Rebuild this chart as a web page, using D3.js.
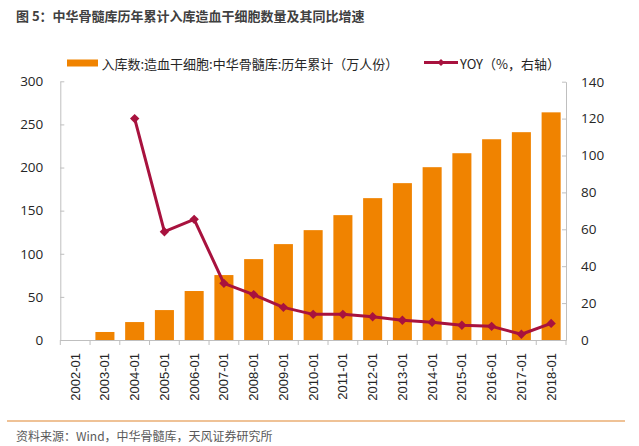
<!DOCTYPE html>
<html><head><meta charset="utf-8">
<script src="https://cdn.jsdelivr.net/npm/d3@7/dist/d3.min.js"></script>
<style>
html,body{margin:0;padding:0;background:#fff;}
svg{display:block;}
text{font-family:"Liberation Sans","Noto Sans CJK SC",sans-serif;}
</style></head>
<body>
<script>
const categories = ["2002-01","2003-01","2004-01","2005-01","2006-01","2007-01","2008-01","2009-01","2010-01","2011-01","2012-01","2013-01","2014-01","2015-01","2016-01","2017-01","2018-01"];
const stockValues = [0,9.3,20.8,34.7,56.8,75.3,93.8,111.2,127.4,144.8,164.5,181.9,200.4,216.6,232.8,241.0,264.0];
const yoyValues = [null,null,120.0,58.7,65.4,30.7,24.6,17.7,13.9,13.9,12.6,10.7,9.6,8.0,7.4,3.1,9.0];
const leftTicks = [0,50,100,150,200,250,300];
const rightTicks = [0,20,40,60,80,100,120,140];
const titleText = "图 5：中华骨髓库历年累计入库造血干细胞数量及其同比增速";
const legendBar = "入库数:造血干细胞:中华骨髓库:历年累计（万人份）";
const legendLine = "YOY（%，右轴）";
const sourceText = "资料来源：Wind，中华骨髓库，天风证券研究所";

const W = 639, H = 446;
const barColor = "#f08300", lineColor = "#a8123e", axisColor = "#bfbfbf";
const svg = d3.select("body").append("svg").attr("width", W).attr("height", H);

const x = d3.scaleBand().domain(categories).range([60.3, 566]).paddingInner(0.36).paddingOuter(0.18);
const yL = d3.scaleLinear().domain([0, 300]).range([340, 81.3]);
const yR = d3.scaleLinear().domain([0, 140]).range([340, 81.7]);

// title
svg.append("text").attr("x", 16).attr("y", 15).attr("dominant-baseline", "central")
  .attr("font-size", 13).attr("font-weight", "bold").attr("fill", "#404040")
  .style("font-family", '"Noto Sans CJK SC",sans-serif').text(titleText);

// legend
svg.append("rect").attr("x", 67).attr("y", 59.5).attr("width", 31).attr("height", 7).attr("fill", barColor);
svg.append("text").attr("x", 101.5).attr("y", 63).attr("dominant-baseline", "central")
  .attr("font-size", 13).attr("fill", "#262626").style("font-family", '"Noto Sans CJK SC",sans-serif').text(legendBar);
svg.append("line").attr("x1", 424).attr("x2", 458).attr("y1", 62.5).attr("y2", 62.5)
  .attr("stroke", lineColor).attr("stroke-width", 3);
svg.append("path").attr("d", d3.symbol(d3.symbolSquare, 26)())
  .attr("transform", "translate(441,62.5) rotate(45)").attr("fill", lineColor);
svg.append("text").attr("x", 460).attr("y", 63).attr("dominant-baseline", "central")
  .attr("font-size", 13).attr("fill", "#262626").style("font-family", '"Noto Sans CJK SC",sans-serif').text(legendLine);

// left axis
const gL = svg.append("g").attr("transform", "translate(60.3,0)")
  .call(d3.axisLeft(yL).tickValues(leftTicks).tickSizeInner(-4).tickSizeOuter(0).tickPadding(17));
gL.select(".domain").attr("stroke", axisColor);
gL.selectAll(".tick line").attr("stroke", axisColor);
gL.selectAll("text").attr("font-size", 13.5).attr("fill", "#262626").style("font-family", '"Open Sans",sans-serif');

// right axis
const gR = svg.append("g").attr("transform", "translate(566,0)")
  .call(d3.axisRight(yR).tickValues(rightTicks).tickSizeInner(-4).tickSizeOuter(0).tickPadding(15));
gR.select(".domain").attr("stroke", axisColor);
gR.selectAll(".tick line").attr("stroke", axisColor);
gR.selectAll("text").attr("font-size", 13.5).attr("fill", "#262626").style("font-family", '"Open Sans",sans-serif');

// bars
svg.append("g").selectAll("rect").data(categories).join("rect")
  .attr("x", d => x(d)).attr("width", x.bandwidth())
  .attr("y", (d, i) => yL(stockValues[i])).attr("height", (d, i) => yL(0) - yL(stockValues[i]))
  .attr("fill", barColor);

// x axis
const gX = svg.append("g").attr("transform", "translate(0,340)")
  .call(d3.axisBottom(x).tickSize(0).tickSizeOuter(0));
gX.select(".domain").attr("stroke", axisColor);
gX.selectAll("text").attr("transform", "rotate(-90)").attr("text-anchor", "end")
  .attr("x", -13).attr("y", 0).attr("dy", "0.35em").attr("font-size", 13).attr("fill", "#262626");
const x0 = x.range()[0];
gX.append("g").selectAll("line").data(d3.range(categories.length + 1)).join("line")
  .attr("x1", i => x0 + i * x.step()).attr("x2", i => x0 + i * x.step())
  .attr("y1", 0).attr("y2", 5).attr("stroke", axisColor);

// yoy line
const pts = categories.map((c, i) => ({c, v: yoyValues[i]})).filter(d => d.v !== null);
svg.append("path").datum(pts)
  .attr("d", d3.line().x(d => x(d.c) + x.bandwidth() / 2).y(d => yR(d.v)))
  .attr("fill", "none").attr("stroke", lineColor).attr("stroke-width", 3).attr("stroke-linejoin", "round");
svg.append("g").selectAll("path").data(pts).join("path")
  .attr("d", d3.symbol(d3.symbolSquare, 44)())
  .attr("transform", d => `translate(${x(d.c) + x.bandwidth() / 2},${yR(d.v)}) rotate(45)`)
  .attr("fill", lineColor);

// footer
svg.append("line").attr("x1", 7).attr("x2", 625).attr("y1", 421).attr("y2", 421)
  .attr("stroke", "#e0852f").attr("stroke-width", 1.2);
svg.append("text").attr("x", 16).attr("y", 435).attr("dominant-baseline", "central")
  .attr("font-size", 12).attr("fill", "#595959").style("font-family", '"Noto Sans CJK SC",sans-serif').text(sourceText);
</script>
</body></html>
